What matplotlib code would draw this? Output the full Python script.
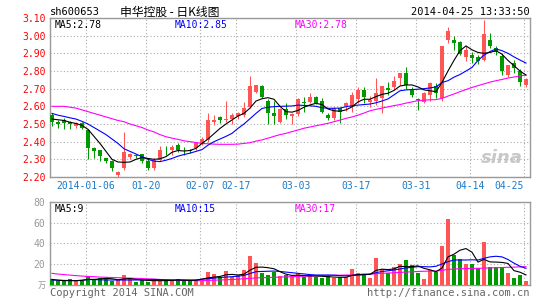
import matplotlib
matplotlib.use("Agg")
import matplotlib.pyplot as plt

# ---- data (index 0 = 2013-12-26, last = 2014-04-25) ----
opens = [2.55, 2.51, 2.525, 2.51, 2.49, 2.505, 2.468, 2.364, 2.35, 2.305,
         2.29, 2.21, 2.25, 2.315, 2.325, 2.328, 2.29, 2.25, 2.296, 2.355,
         2.35, 2.38, 2.355, 2.35, 2.362, 2.387, 2.41, 2.512, 2.54, 2.52,
         2.526, 2.545, 2.551, 2.598, 2.683, 2.715, 2.632, 2.565, 2.513, 2.583,
         2.545, 2.556, 2.625, 2.626, 2.655, 2.632, 2.551, 2.532, 2.589, 2.602,
         2.598, 2.64, 2.692, 2.627, 2.63, 2.645, 2.706, 2.707, 2.758, 2.787,
         2.70, 2.64, 2.626, 2.664, 2.713, 2.647, 2.977, 2.977, 2.964, 2.877,
         2.89, 2.877, 2.864, 2.977, 2.93, 2.883, 2.78, 2.845, 2.798, 2.72]
highs = [2.56, 2.52, 2.535, 2.515, 2.51, 2.51, 2.47, 2.37, 2.355, 2.31,
         2.295, 2.235, 2.457, 2.335, 2.33, 2.33, 2.30, 2.31, 2.375, 2.375,
         2.38, 2.39, 2.37, 2.36, 2.40, 2.425, 2.565, 2.55, 2.545, 2.63,
         2.56, 2.57, 2.626, 2.774, 2.72, 2.72, 2.64, 2.63, 2.59, 2.617,
         2.56, 2.65, 2.655, 2.677, 2.66, 2.645, 2.56, 2.595, 2.59, 2.625,
         2.683, 2.71, 2.71, 2.66, 2.76, 2.715, 2.735, 2.77, 2.787, 2.825,
         2.71, 2.645, 2.68, 2.74, 2.73, 2.94, 3.05, 2.996, 2.97, 2.94,
         2.91, 2.89, 3.09, 3.015, 2.94, 2.90, 2.836, 2.865, 2.81, 2.76]
lows = [2.49, 2.48, 2.47, 2.47, 2.475, 2.47, 2.30, 2.31, 2.29, 2.28,
        2.232, 2.20, 2.24, 2.30, 2.31, 2.28, 2.24, 2.24, 2.29, 2.325,
        2.325, 2.34, 2.325, 2.335, 2.355, 2.38, 2.40, 2.495, 2.505, 2.51,
        2.50, 2.53, 2.54, 2.59, 2.675, 2.65, 2.50, 2.50, 2.505, 2.53,
        2.50, 2.545, 2.57, 2.62, 2.615, 2.56, 2.52, 2.52, 2.508, 2.575,
        2.57, 2.617, 2.62, 2.595, 2.61, 2.56, 2.665, 2.69, 2.72, 2.70,
        2.655, 2.58, 2.62, 2.63, 2.647, 2.628, 2.958, 2.92, 2.89, 2.855,
        2.845, 2.84, 2.855, 2.93, 2.89, 2.78, 2.765, 2.79, 2.713, 2.71]
closes = [2.51, 2.50, 2.505, 2.50, 2.505, 2.478, 2.364, 2.345, 2.317, 2.29,
          2.25, 2.23, 2.34, 2.328, 2.32, 2.29, 2.25, 2.296, 2.355, 2.35,
          2.368, 2.353, 2.35, 2.348, 2.39, 2.413, 2.52, 2.52, 2.525, 2.53,
          2.55, 2.563, 2.589, 2.715, 2.72, 2.655, 2.56, 2.545, 2.583, 2.55,
          2.556, 2.64, 2.62, 2.655, 2.62, 2.57, 2.532, 2.589, 2.57, 2.62,
          2.664, 2.692, 2.655, 2.636, 2.674, 2.715, 2.69, 2.745, 2.787, 2.72,
          2.664, 2.635, 2.677, 2.734, 2.675, 2.94, 3.025, 2.958, 2.896, 2.92,
          2.875, 2.858, 3.01, 2.94, 2.91, 2.798, 2.836, 2.817, 2.738, 2.755]

ma5 = [2.528, 2.524, 2.52, 2.51, 2.503, 2.492, 2.47, 2.43, 2.39, 2.345,
       2.30, 2.285, 2.283, 2.285, 2.30, 2.31, 2.305, 2.30, 2.303, 2.315,
       2.34, 2.35, 2.347, 2.35, 2.362, 2.39, 2.415, 2.445, 2.475, 2.50,
       2.523, 2.545, 2.56, 2.59, 2.63, 2.643, 2.649, 2.64, 2.60, 2.57,
       2.567, 2.577, 2.595, 2.608, 2.617, 2.61, 2.585, 2.575, 2.572, 2.58,
       2.597, 2.625, 2.64, 2.64, 2.655, 2.668, 2.674, 2.69, 2.715, 2.721,
       2.721, 2.71, 2.693, 2.688, 2.683, 2.735, 2.80, 2.86, 2.915, 2.942,
       2.92, 2.905, 2.90, 2.905, 2.915, 2.895, 2.86, 2.83, 2.80, 2.777]
ma10 = [2.56, 2.55, 2.543, 2.535, 2.528, 2.515, 2.50, 2.48, 2.46, 2.44,
        2.415, 2.39, 2.36, 2.345, 2.33, 2.315, 2.30, 2.29, 2.287, 2.295,
        2.305, 2.318, 2.327, 2.335, 2.345, 2.355, 2.38, 2.40, 2.415, 2.43,
        2.447, 2.475, 2.50, 2.53, 2.56, 2.588, 2.595, 2.598, 2.60, 2.601,
        2.602, 2.607, 2.605, 2.603, 2.60, 2.592, 2.589, 2.589, 2.59, 2.598,
        2.603, 2.607, 2.61, 2.613, 2.62, 2.63, 2.642, 2.665, 2.688, 2.693,
        2.695, 2.697, 2.70, 2.704, 2.71, 2.735, 2.745, 2.765, 2.78, 2.80,
        2.82, 2.86, 2.89, 2.91, 2.925, 2.915, 2.90, 2.88, 2.862, 2.845]
ma30 = [2.60, 2.60, 2.60, 2.595, 2.59, 2.58, 2.57, 2.56, 2.55, 2.54,
        2.53, 2.52, 2.513, 2.50, 2.49, 2.48, 2.466, 2.455, 2.44, 2.428,
        2.42, 2.413, 2.405, 2.40, 2.395, 2.39, 2.388, 2.386, 2.385, 2.385,
        2.385, 2.386, 2.39, 2.394, 2.403, 2.41, 2.42, 2.43, 2.44, 2.447,
        2.457, 2.466, 2.476, 2.483, 2.49, 2.497, 2.504, 2.513, 2.522, 2.532,
        2.54, 2.55, 2.562, 2.575, 2.583, 2.59, 2.597, 2.604, 2.61, 2.618,
        2.625, 2.632, 2.635, 2.637, 2.638, 2.645, 2.658, 2.67, 2.683, 2.695,
        2.707, 2.717, 2.727, 2.737, 2.745, 2.752, 2.76, 2.766, 2.772, 2.777]

volumes = [5.4, 4.2, 4.2, 5.4, 4.2, 4.2, 8.6, 5.4, 6.4, 6.4,
           4.2, 5.4, 9.6, 5.4, 3.2, 5.4, 3.2, 5.4, 4.2, 4.8,
           4.8, 5.4, 4.2, 4.2, 4.2, 4.2, 12.8, 10.6, 7.4, 13.4,
           7.4, 9.6, 14.4, 27.8, 21.4, 11.8, 9.6, 12.8, 8.6, 9.6,
           8.6, 11.8, 7.4, 9.3, 7.4, 6.7, 8.6, 6.7, 7.4, 7.4,
           15.4, 11.8, 9.3, 6.7, 26.2, 15.4, 11.2, 17.0, 20.2, 24.0,
           18.9, 11.8, 5.8, 14.4, 12.5, 37.4, 63.4, 28.8, 25.0, 20.2,
           20.2, 16.0, 41.6, 17.0, 17.0, 17.0, 11.2, 6.7, 9.6, 3.8]
vol_ma5 = [5.4, 4.6, 4.2, 4.2, 4.2, 4.4, 5.4, 5.4, 5.8, 6.4,
           6.0, 5.0, 5.8, 6.2, 5.4, 4.8, 4.4, 4.2, 4.2, 4.2,
           4.4, 4.8, 4.6, 4.4, 4.6, 5.6, 6.8, 7.6, 8.2, 9.8,
           10.2, 9.6, 10.4, 14.2, 17.0, 17.2, 16.6, 15.6, 12.8, 10.4,
           9.2, 9.4, 9.0, 8.8, 8.6, 8.4, 8.0, 7.6, 7.4, 7.4,
           9.2, 10.0, 10.4, 10.2, 14.0, 15.2, 14.8, 15.4, 18.0, 17.6,
           17.6, 18.4, 16.0, 14.6, 12.8, 16.2, 27.0, 29.6, 33.4, 35.0,
           31.5, 22.0, 24.6, 22.2, 22.0, 21.7, 20.7, 13.8, 12.3, 9.7]
vol_ma10 = [4.8, 4.6, 4.4, 4.3, 4.2, 4.6, 5.2, 5.2, 5.0, 4.8,
            4.8, 4.8, 4.8, 4.8, 4.8, 5.0, 5.2, 5.4, 5.2, 5.0,
            4.8, 4.8, 4.8, 4.8, 4.8, 5.6, 6.0, 6.6, 7.2, 7.6,
            8.0, 8.4, 9.2, 11.0, 12.8, 13.0, 13.2, 13.4, 13.0, 12.4,
            11.8, 11.2, 10.6, 10.0, 9.6, 9.6, 9.6, 9.4, 9.0, 8.8,
            9.2, 9.6, 9.8, 10.4, 11.8, 13.0, 13.6, 14.4, 15.4, 16.4,
            17.0, 17.6, 17.6, 17.4, 18.0, 20.2, 22.4, 24.0, 24.0, 24.0,
            24.2, 24.0, 25.6, 27.0, 27.6, 27.0, 24.5, 21.0, 18.0, 16.0]
vol_ma30 = [11.2, 10.5, 10.0, 9.5, 9.0, 8.6, 8.2, 8.0, 7.6, 7.4,
            7.2, 7.0, 6.8, 6.6, 6.4, 6.2, 5.9, 5.6, 5.3, 5.0,
            4.8, 4.6, 4.4, 4.3, 4.2, 4.2, 4.4, 4.6, 4.8, 5.0,
            5.3, 5.6, 6.0, 6.4, 6.8, 7.0, 7.2, 7.4, 7.6, 7.8,
            8.0, 8.2, 8.4, 8.6, 8.8, 9.0, 9.2, 9.4, 9.4, 9.6,
            9.6, 9.8, 10.0, 10.4, 10.8, 11.2, 11.5, 11.8, 12.1, 12.4,
            12.7, 13.0, 13.2, 13.3, 13.4, 14.0, 15.0, 15.3, 15.6, 15.8,
            16.0, 16.0, 16.2, 16.4, 16.6, 16.8, 17.0, 17.2, 17.4, 17.6]

tick_idx = [6, 16, 25, 31, 41, 51, 61, 70, 79]
tick_labels = ["2014-01-06", "01-20", "02-07", "02-17", "03-03",
               "03-17", "03-31", "04-14", "04-25"]
price_ticks = [2.20, 2.30, 2.40, 2.50, 2.60, 2.70, 2.80, 2.90, 3.00, 3.10]
vol_ticks = [20, 40, 60, 80]

# ---- style ----
RED = "#ff5555"
GREEN = "#009900"
GRID = "#aaaaaa"
BORDER = "#999999"
mono = "DejaVu Sans Mono"
W, H = 545, 300

fig = plt.figure(figsize=(5.45, 3.0), dpi=100)
fig.patch.set_facecolor("white")
ax = fig.add_axes([50 / W, 1 - 177 / H, 480 / W, 159 / H])
axv = fig.add_axes([50 / W, 1 - 285 / H, 480 / W, 83.3 / H])

n = len(closes)
idx = list(range(n))
colors = [RED if c >= o else GREEN for o, c in zip(opens, closes)]

for a in (ax, axv):
    a.set_xlim(-0.33, n - 0.33)
    for s in a.spines.values():
        s.set_color(BORDER)
        s.set_linewidth(1.0)
    a.set_xticks([t - 0.33 for t in tick_idx])
    a.grid(True, color=GRID, linestyle=(0, (1, 2)), linewidth=0.8)
    a.set_axisbelow(True)
    a.tick_params(length=0)

# candles
ax.vlines(idx, lows, highs, colors=colors, linewidth=0.75, zorder=2)
bottoms = [min(o, c) for o, c in zip(opens, closes)]
heights = [max(abs(c - o), 0.004) for o, c in zip(opens, closes)]
ax.bar(idx, heights, bottom=bottoms, width=0.75, color=colors,
       linewidth=0, zorder=3)
ax.plot(idx, ma30, color="#ff00ff", linewidth=0.8, zorder=4)
ax.plot(idx, ma10, color="#0000ff", linewidth=0.8, zorder=4)
ax.plot(idx, ma5, color="black", linewidth=0.8, zorder=4)

ax.set_ylim(2.20, 3.10)
ax.set_yticks(price_ticks)
ax.set_yticklabels([f"{p:.2f}" for p in price_ticks], color="red",
                   fontsize=7, family=mono)
ax.set_xticklabels(tick_labels, color="#1a7ac8", fontsize=7, family=mono)
ax.xaxis.get_ticklabels()[-1].set_horizontalalignment("right")
ax.tick_params(axis="y", pad=3)
ax.tick_params(axis="x", pad=3)

ax.text(5 / 480, 1 - 7 / 159, "MA5:2.78", transform=ax.transAxes,
        color="black", fontsize=7, family=mono, va="center")
ax.text(125 / 480, 1 - 7 / 159, "MA10:2.85", transform=ax.transAxes,
        color="#0000ff", fontsize=7, family=mono, va="center")
ax.text(245 / 480, 1 - 7 / 159, "MA30:2.78", transform=ax.transAxes,
        color="#ff00ff", fontsize=7, family=mono, va="center")
ax.text(0.985, 0.12, "sina", transform=ax.transAxes, color="#bbbbbb",
        fontsize=13, fontweight="bold", style="italic", ha="right",
        va="center", alpha=0.8)

# volume
axv.bar(idx, volumes, width=0.75, color=colors, linewidth=0, zorder=3)
axv.plot(idx, vol_ma30, color="#ff00ff", linewidth=0.8, zorder=4)
axv.plot(idx, vol_ma10, color="#0000ff", linewidth=0.8, zorder=4)
axv.plot(idx, vol_ma5, color="black", linewidth=0.8, zorder=4)
axv.set_ylim(0, 80)
axv.set_yticks(vol_ticks)
axv.set_yticklabels([str(v) for v in vol_ticks], color="#999999",
                    fontsize=7, family=mono)
axv.set_xticklabels([])
axv.text(5 / 480, 1 - 7 / 83.3, "MA5:9", transform=axv.transAxes,
         color="black", fontsize=7, family=mono, va="center")
axv.text(125 / 480, 1 - 7 / 83.3, "MA10:15", transform=axv.transAxes,
         color="#0000ff", fontsize=7, family=mono, va="center")
axv.text(245 / 480, 1 - 7 / 83.3, "MA30:17", transform=axv.transAxes,
         color="#ff00ff", fontsize=7, family=mono, va="center")

# header / footer
fig.text(50 / W, 1 - 12 / H, "sh600653", fontsize=7.5, family=mono,
         va="center", ha="left")
fig.text(120 / W, 1 - 12 / H, "申华控股 - 日K线图", fontsize=8.5,
         family=["Noto Sans CJK SC", "DejaVu Sans"], va="center", ha="left")
fig.text(530 / W, 1 - 12 / H, "2014-04-25 13:33:50", fontsize=7.5,
         family=mono, va="center", ha="right")
fig.text(50 / W, 1 - 293 / H, "Copyright 2014 SINA.COM", fontsize=7.5,
         family=mono, color="#666666", va="center", ha="left")
fig.text(530 / W, 1 - 293 / H, "http://finance.sina.com.cn", fontsize=7.5,
         family=mono, color="#666666", va="center", ha="right")
fig.text(46 / W, 1 - 285 / H, "万", fontsize=6, color="#999999",
         family=["Noto Sans CJK SC", "DejaVu Sans"], va="center", ha="right")

fig.savefig("out.png", dpi=100)
